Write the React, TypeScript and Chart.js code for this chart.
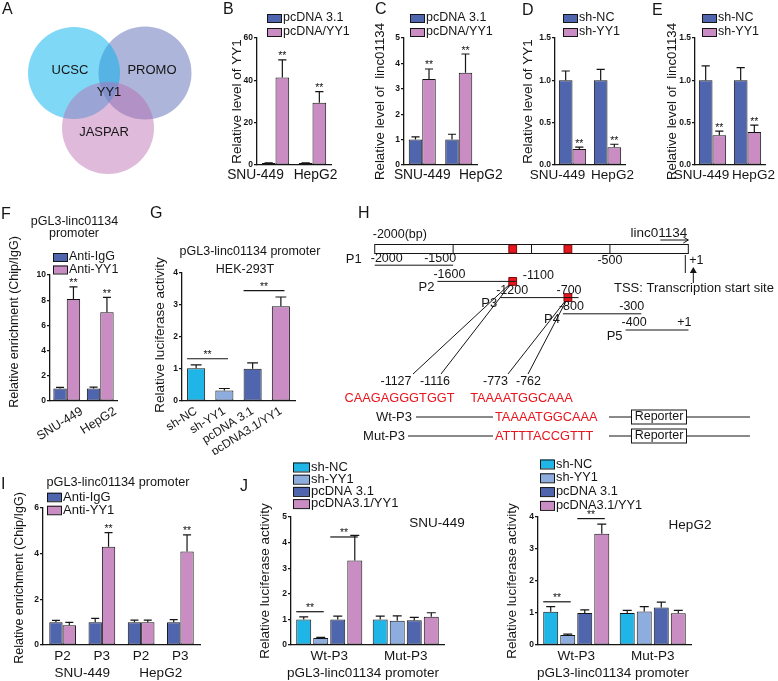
import React, { useEffect, useRef } from "react";
import { Chart, registerables } from "chart.js";

Chart.register(...registerables);

const FONT = "'Liberation Sans', Arial, Helvetica, sans-serif";
Chart.defaults.font.family = FONT;
Chart.defaults.color = "#111";

const INK = "#151515";
const BLUE = "#4f65ae";
const PINK = "#c98dc3";
const CYAN = "#1fb6e7";
const LIGHT = "#8eaddf";
const RED = "#e8151d";

// ---------------- DATA ----------------
// Panel A
const vennSets = ["PROMO", "UCSC", "JASPAR"];
const vennCore = "YY1";
// Panels B–E
const cellLines = ["SNU-449", "HepG2"];
const overSeries = ["pcDNA 3.1", "pcDNA/YY1"];
const knockSeries = ["sh-NC", "sh-YY1"];
const bVector = [0.9, 0.9];
const bVectorErr = [0.12, 0.12];
const bYY1 = [41.3, 29.4];
const bYY1Err = [8.4, 5.3];
const cVector = [1.0, 1.0];
const cVectorErr = [0.11, 0.21];
const cYY1 = [3.39, 3.63];
const cYY1Err = [0.39, 0.74];
const dShNC = [1.0, 1.0];
const dShNCErr = [0.11, 0.13];
const dShYY1 = [0.19, 0.21];
const dShYY1Err = [0.02, 0.035];
const eShNC = [1.0, 1.0];
const eShNCErr = [0.17, 0.15];
const eShYY1 = [0.35, 0.39];
const eShYY1Err = [0.05, 0.08];
// Panel F
const chipSeries = ["Anti-IgG", "Anti-YY1"];
const fIgG = [1.0, 1.0];
const fIgGErr = [0.08, 0.1];
const fYY1 = [8.1, 7.05];
const fYY1Err = [0.95, 1.18];
// Panel G
const gGroups = ["sh-NC", "sh-YY1", "pcDNA 3.1", "pcDNA3.1/YY1"];
const gValues = [1.02, 0.33, 1.01, 2.96];
const gErrors = [0.11, 0.06, 0.18, 0.29];
// Panel H
const fragNames = ["P1", "P2", "P3", "P4", "P5"];
const fragStart = [-2000, -1600, -1200, -800, -400];
const fragEnd = [-1500, -1100, -700, -300, 1];
const fragStartLabel = ["-2000", "-1600", "-1200", "-800", "-400"];
const fragEndLabel = ["-1500", "-1100", "-700", "-300", "+1"];
const barDividers = [-1500, -1000, -500];
const siteBp = [-1120, -768];
const siteRows = [[0, 2], [0, 3]];
const siteEdges = [["-1127", "-1116"], ["-773", "-762"]];
const siteSeq = ["CAAGAGGGTGGT", "TAAAATGGCAAA"];
const wtSeq = "TAAAATGGCAAA";
const mutSeq = "ATTTTACCGTTT";
// Panel I
const iFragments = ["P2", "P3", "P2", "P3"];
const iIgG = [1.0, 1.0, 1.0, 1.0];
const iIgGErr = [0.08, 0.17, 0.09, 0.11];
const iYY1 = [0.86, 4.3, 1.0, 4.1];
const iYY1Err = [0.13, 0.62, 0.09, 0.72];
// Panel J
const jConstructs = ["Wt-P3", "Mut-P3"];
const jSeries = ["sh-NC", "sh-YY1", "pcDNA 3.1", "pcDNA3.1/YY1"];
const jSnu = [
  [1.0, 1.0],
  [0.27, 0.95],
  [1.0, 0.97],
  [3.3, 1.1],
];
const jSnuErr = [
  [0.1, 0.13],
  [0.03, 0.19],
  [0.13, 0.11],
  [0.98, 0.16],
];
const jHep = [
  [1.04, 1.0],
  [0.31, 1.05],
  [1.0, 1.17],
  [3.48, 0.99],
];
const jHepErr = [
  [0.16, 0.08],
  [0.03, 0.15],
  [0.1, 0.17],
  [0.3, 0.09],
];

// ---------------- TYPES ----------------
type Rect = { x: number; y: number; w: number; h: number };
type Plot = { l: number; t: number; r: number; b: number };
type TextItem = {
  text: string; x: number; y: number; size: number;
  align?: CanvasTextAlign; rotate?: boolean; color?: string;
};
type SeriesSpec = {
  label: string; values: number[]; errors: number[];
  color: string | string[]; stars?: boolean[];
};
type BarSpec = {
  canvas: Rect; plot: Plot; labels: string[]; series: SeriesSpec[];
  yMax: number; yStep: number; yDec: number; catPct: number; barPct: number;
  xRot?: number; xSize?: number; xLabelOffset?: number;
  manualX?: { shift: number[]; y: number; size: number };
  legend?: { x: number; y: number; rowH: number; boxW: number; boxH: number; size: number };
  texts?: TextItem[];
  brackets?: { from: [number, number]; to: [number, number]; value: number }[];
  groups?: { text: string; from: number; to: number; y: number; size: number }[];
};

function drawText(ctx: CanvasRenderingContext2D, t: TextItem, ox: number, oy: number) {
  ctx.save();
  ctx.fillStyle = t.color || INK;
  ctx.font = `${t.size}px ${FONT}`;
  ctx.textAlign = t.align || "center";
  ctx.textBaseline = "middle";
  ctx.translate(t.x - ox, t.y - oy);
  if (t.rotate) ctx.rotate(-Math.PI / 2);
  ctx.fillText(t.text, 0, 0);
  ctx.restore();
}

function drawStars(ctx: CanvasRenderingContext2D, x: number, base: number) {
  ctx.save();
  ctx.fillStyle = INK;
  ctx.font = `10.5px ${FONT}`;
  ctx.textAlign = "center";
  ctx.textBaseline = "alphabetic";
  ctx.fillText("**", x, base);
  ctx.restore();
}

function buildBar(canvas: HTMLCanvasElement, s: BarSpec): Chart {
  const ox = s.canvas.x;
  const oy = s.canvas.y;
  const yW = s.plot.l - ox;
  const xH = oy + s.canvas.h - s.plot.b;
  const decor = {
    id: "decor",
    afterDatasetsDraw(chart: any) {
      const ctx: CanvasRenderingContext2D = chart.ctx;
      const ys = chart.scales.y;
      const xs = chart.scales.x;
      ctx.save();
      ctx.strokeStyle = INK;
      ctx.lineWidth = 1.2;
      s.series.forEach((ser, di) => {
        const meta = chart.getDatasetMeta(di);
        meta.data.forEach((el: any, i: number) => {
          const top = ys.getPixelForValue(ser.values[i] + ser.errors[i]);
          const cap = el.width * 0.6;
          ctx.beginPath();
          ctx.moveTo(el.x, el.y);
          ctx.lineTo(el.x, top);
          ctx.moveTo(el.x - cap / 2, top);
          ctx.lineTo(el.x + cap / 2, top);
          ctx.stroke();
          if (ser.stars && ser.stars[i]) drawStars(ctx, el.x, top - 0.5);
        });
      });
      (s.brackets || []).forEach((b) => {
        const a: any = chart.getDatasetMeta(b.from[0]).data[b.from[1]];
        const c: any = chart.getDatasetMeta(b.to[0]).data[b.to[1]];
        const y = ys.getPixelForValue(b.value);
        const x1 = a.x - a.width / 2;
        const x2 = c.x + c.width * 0.2;
        ctx.beginPath();
        ctx.moveTo(x1, y);
        ctx.lineTo(x2, y);
        ctx.stroke();
        drawStars(ctx, (x1 + x2) / 2, y - 1);
      });
      if (s.legend) {
        const L = s.legend;
        s.series.forEach((ser, i) => {
          const cy = L.y + i * L.rowH - oy;
          ctx.fillStyle = Array.isArray(ser.color) ? ser.color[0] : ser.color;
          ctx.fillRect(L.x - ox, cy - L.boxH / 2, L.boxW, L.boxH);
          ctx.lineWidth = 1;
          ctx.strokeRect(L.x - ox + 0.5, cy - L.boxH / 2 + 0.5, L.boxW, L.boxH);
          drawText(ctx, { text: ser.label, x: L.x + L.boxW + 2, y: L.y + i * L.rowH, size: L.size, align: "left" }, ox, oy);
        });
      }
      if (s.manualX) {
        const M = s.manualX;
        s.labels.forEach((lab, i) => {
          drawText(ctx, { text: lab, x: xs.getPixelForTick(i) + ox + M.shift[i], y: M.y, size: M.size }, ox, oy);
        });
      }
      (s.groups || []).forEach((g) => {
        const gx = (xs.getPixelForTick(g.from) + xs.getPixelForTick(g.to)) / 2;
        drawText(ctx, { text: g.text, x: gx + ox, y: g.y, size: g.size }, ox, oy);
      });
      (s.texts || []).forEach((t) => drawText(ctx, t, ox, oy));
      ctx.restore();
    },
  };
  const rot = s.xRot || 0;
  return new Chart(canvas, {
    type: "bar",
    data: {
      labels: s.labels,
      datasets: s.series.map((ser) => ({
        label: ser.label,
        data: ser.values,
        backgroundColor: ser.color,
        borderColor: INK,
        borderWidth: 1,
        borderSkipped: false,
        categoryPercentage: s.catPct,
        barPercentage: s.barPct,
      })),
    },
    options: {
      responsive: false,
      animation: false,
      events: [],
      layout: { autoPadding: false, padding: { left: 0, top: s.plot.t - oy, right: ox + s.canvas.w - s.plot.r, bottom: 0 } },
      plugins: { legend: { display: false }, tooltip: { enabled: false } },
      scales: {
        x: {
          type: "category",
          offset: true,
          grid: { display: false, drawTicks: false },
          border: { display: true, color: INK, width: 1.3 },
          ticks: {
            display: !s.manualX,
            color: INK,
            font: { family: FONT, size: s.xSize || 13.5 },
            padding: 3,
            minRotation: rot,
            maxRotation: rot,
            labelOffset: s.xLabelOffset || 0,
            autoSkip: false,
          },
          afterFit: (sc: any) => { sc.height = xH; },
        },
        y: {
          type: "linear",
          min: 0,
          max: s.yMax,
          ticks: {
            stepSize: s.yStep,
            color: INK,
            padding: 1,
            font: { family: FONT, size: 8.5, weight: "bold" },
            callback: (v: any) => Number(v).toFixed(s.yDec),
          },
          grid: { drawOnChartArea: false, drawTicks: true, tickLength: 3, color: INK, lineWidth: 1.2 },
          border: { display: true, color: INK, width: 1.3 },
          afterFit: (sc: any) => { sc.width = yW; },
        },
      },
    } as any,
    plugins: [decor],
  });
}

// ---------------- PANEL SPECS ----------------
const pairStars = [true, true];
const noStars = [false, false];

const BAR_SPECS: BarSpec[] = [
  {
    canvas: { x: 222, y: 0, w: 136, h: 190 },
    plot: { l: 257, t: 38, r: 331, b: 165 },
    labels: cellLines,
    series: [
      { label: overSeries[0], values: bVector, errors: bVectorErr, color: BLUE, stars: noStars },
      { label: overSeries[1], values: bYY1, errors: bYY1Err, color: PINK, stars: pairStars },
    ],
    yMax: 60, yStep: 20, yDec: 0, catPct: 0.74, barPct: 1,
    manualX: { shift: [-20, 3], y: 175, size: 13.8 },
    legend: { x: 267, y: 18, rowH: 14, boxW: 14, boxH: 8, size: 12.5 },
    texts: [{ text: "Relative level of YY1", x: 237, y: 101.5, size: 13.5, rotate: true }],
  },
  {
    canvas: { x: 371, y: 0, w: 137, h: 190 },
    plot: { l: 404, t: 38, r: 477, b: 165 },
    labels: cellLines,
    series: [
      { label: overSeries[0], values: cVector, errors: cVectorErr, color: BLUE, stars: noStars },
      { label: overSeries[1], values: cYY1, errors: cYY1Err, color: PINK, stars: pairStars },
    ],
    yMax: 5, yStep: 1, yDec: 0, catPct: 0.74, barPct: 1,
    manualX: { shift: [0, 22], y: 175, size: 13.8 },
    legend: { x: 410, y: 18, rowH: 14, boxW: 14, boxH: 8, size: 12.5 },
    texts: [{ text: "Relative level of  linc01134", x: 380, y: 101.5, size: 13.3, rotate: true }],
  },
  {
    canvas: { x: 518, y: 0, w: 122, h: 190 },
    plot: { l: 555, t: 38, r: 625, b: 165 },
    labels: cellLines,
    series: [
      { label: knockSeries[0], values: dShNC, errors: dShNCErr, color: BLUE, stars: noStars },
      { label: knockSeries[1], values: dShYY1, errors: dShYY1Err, color: PINK, stars: pairStars },
    ],
    yMax: 1.5, yStep: 0.5, yDec: 1, catPct: 0.78, barPct: 1,
    manualX: { shift: [-15, 5], y: 175, size: 13.5 },
    legend: { x: 563, y: 18, rowH: 14, boxW: 14, boxH: 8, size: 12.5 },
    texts: [{ text: "Relative level of YY1", x: 528, y: 101.5, size: 13.5, rotate: true }],
  },
  {
    canvas: { x: 664, y: 0, w: 114, h: 190 },
    plot: { l: 695, t: 38, r: 765, b: 165 },
    labels: cellLines,
    series: [
      { label: knockSeries[0], values: eShNC, errors: eShNCErr, color: BLUE, stars: noStars },
      { label: knockSeries[1], values: eShYY1, errors: eShYY1Err, color: PINK, stars: pairStars },
    ],
    yMax: 1.5, yStep: 0.5, yDec: 1, catPct: 0.78, barPct: 1,
    manualX: { shift: [-11, 6], y: 175, size: 13.5 },
    legend: { x: 702, y: 18, rowH: 14, boxW: 14, boxH: 8, size: 12.5 },
    texts: [{ text: "Relative level of  linc01134", x: 672, y: 101.5, size: 13.3, rotate: true }],
  },
  {
    canvas: { x: 5, y: 195, w: 135, h: 255 },
    plot: { l: 50, t: 275, r: 117, b: 401 },
    labels: cellLines,
    series: [
      { label: chipSeries[0], values: fIgG, errors: fIgGErr, color: BLUE, stars: noStars },
      { label: chipSeries[1], values: fYY1, errors: fYY1Err, color: PINK, stars: pairStars },
    ],
    yMax: 10, yStep: 2, yDec: 0, catPct: 0.8, barPct: 1,
    xRot: 32, xSize: 12.5, xLabelOffset: 15,
    legend: { x: 53, y: 257, rowH: 12.5, boxW: 14, boxH: 8, size: 12.5 },
    texts: [
      { text: "Relative enrichment (Chip/IgG)", x: 15, y: 322, size: 12.5, rotate: true },
      { text: "pGL3-linc01134", x: 74.5, y: 222, size: 12.5 },
      { text: "promoter", x: 74, y: 234, size: 12.5 },
    ],
  },
  {
    canvas: { x: 150, y: 195, w: 190, h: 260 },
    plot: { l: 182, t: 273, r: 295, b: 401 },
    labels: gGroups,
    series: [
      { label: "luciferase", values: gValues, errors: gErrors, color: [CYAN, LIGHT, BLUE, PINK] },
    ],
    yMax: 4, yStep: 1, yDec: 0, catPct: 1, barPct: 0.64,
    xRot: 32, xSize: 12,
    brackets: [
      { from: [0, 0], to: [0, 1], value: 1.32 },
      { from: [0, 2], to: [0, 3], value: 3.45 },
    ],
    texts: [
      { text: "Relative luciferase activity", x: 160, y: 335, size: 13.5, rotate: true },
      { text: "pGL3-linc01134 promoter", x: 250, y: 252, size: 12.5 },
      { text: "HEK-293T", x: 245, y: 270, size: 12.5 },
    ],
  },
  {
    canvas: { x: 5, y: 470, w: 210, h: 211 },
    plot: { l: 43, t: 508, r: 200, b: 645 },
    labels: iFragments,
    series: [
      { label: chipSeries[0], values: iIgG, errors: iIgGErr, color: BLUE },
      { label: chipSeries[1], values: iYY1, errors: iYY1Err, color: PINK, stars: [false, true, false, true] },
    ],
    yMax: 6, yStep: 2, yDec: 0, catPct: 0.68, barPct: 1,
    legend: { x: 47, y: 497, rowH: 13, boxW: 14, boxH: 8.5, size: 13 },
    groups: [
      { text: cellLines[0], from: 0, to: 1, y: 673, size: 13.5 },
      { text: cellLines[1], from: 2, to: 3, y: 673, size: 13.5 },
    ],
    texts: [
      { text: "Relative enrichment (Chip/IgG)", x: 20, y: 578, size: 12.5, rotate: true },
      { text: "pGL3-linc01134 promoter", x: 118, y: 482, size: 12.7 },
    ],
  },
  {
    canvas: { x: 257, y: 455, w: 215, h: 226 },
    plot: { l: 291, t: 517, r: 444, b: 645 },
    labels: jConstructs,
    series: jSeries.map((lab, k) => ({ label: lab, values: jSnu[k], errors: jSnuErr[k], color: [CYAN, LIGHT, BLUE, PINK][k] })),
    yMax: 5, yStep: 1, yDec: 0, catPct: 0.89, barPct: 0.88,
    legend: { x: 293, y: 467, rowH: 12.2, boxW: 16, boxH: 9, size: 13 },
    brackets: [
      { from: [0, 0], to: [1, 0], value: 1.3 },
      { from: [2, 0], to: [3, 0], value: 4.22 },
    ],
    texts: [
      { text: "Relative luciferase activity", x: 265, y: 581, size: 13.5, rotate: true },
      { text: "SNU-449", x: 437, y: 523, size: 13.5 },
      { text: "pGL3-linc01134 promoter", x: 363, y: 673, size: 13.5 },
    ],
  },
  {
    canvas: { x: 504, y: 455, w: 274, h: 226 },
    plot: { l: 538, t: 517, r: 691, b: 645 },
    labels: jConstructs,
    series: jSeries.map((lab, k) => ({ label: lab, values: jHep[k], errors: jHepErr[k], color: [CYAN, LIGHT, BLUE, PINK][k] })),
    yMax: 4, yStep: 1, yDec: 0, catPct: 0.89, barPct: 0.88,
    legend: { x: 540, y: 464, rowH: 13.8, boxW: 14, boxH: 9, size: 12.8 },
    brackets: [
      { from: [0, 0], to: [1, 0], value: 1.35 },
      { from: [2, 0], to: [3, 0], value: 3.95 },
    ],
    texts: [
      { text: "Relative luciferase activity", x: 512, y: 581, size: 13.5, rotate: true },
      { text: "HepG2", x: 690, y: 525, size: 13.5 },
      { text: "pGL3-linc01134 promoter", x: 613, y: 673, size: 13.5 },
    ],
  },
];

// ---------------- Panel A: Venn ----------------
const VENN_RECT: Rect = { x: 0, y: 0, w: 200, h: 190 };
const vennLayout = [
  { x: 145, y: 73, r: 46.5, color: "rgba(91,110,182,0.5)", lx: 152, ly: 70 },
  { x: 74, y: 73, r: 46, color: "rgba(0,177,237,0.5)", lx: 70, ly: 70 },
  { x: 108, y: 128, r: 46, color: "rgba(185,105,175,0.46)", lx: 104, ly: 132 },
];

function buildVenn(canvas: HTMLCanvasElement): Chart {
  const labels = {
    id: "vennLabels",
    afterDatasetsDraw(chart: any) {
      const ctx = chart.ctx;
      const xs = chart.scales.x;
      const ys = chart.scales.y;
      vennSets.forEach((name, i) => {
        drawText(ctx, { text: name, x: xs.getPixelForValue(vennLayout[i].lx), y: ys.getPixelForValue(vennLayout[i].ly), size: 13 }, 0, 0);
      });
      drawText(ctx, { text: vennCore, x: xs.getPixelForValue(109), y: ys.getPixelForValue(92), size: 13 }, 0, 0);
    },
  };
  // dataset 0 is painted last (on top), so list in reverse of paint order
  const order = [2, 1, 0];
  return new Chart(canvas, {
    type: "bubble",
    data: {
      datasets: order.map((i) => ({
        label: vennSets[i],
        data: [{ x: vennLayout[i].x, y: vennLayout[i].y, r: vennLayout[i].r }],
        backgroundColor: vennLayout[i].color,
        borderWidth: 0,
        hoverRadius: 0,
        clip: false,
      })),
    },
    options: {
      responsive: false,
      animation: false,
      events: [],
      layout: { autoPadding: false, padding: 0 },
      plugins: { legend: { display: false }, tooltip: { enabled: false } },
      scales: {
        x: { type: "linear", display: false, min: 0, max: VENN_RECT.w },
        y: { type: "linear", display: false, min: 0, max: VENN_RECT.h, reverse: true },
      },
    } as any,
    plugins: [labels],
  });
}

// ---------------- Panel H: promoter map ----------------
const H_RECT: Rect = { x: 340, y: 195, w: 438, h: 250 };
const H_BP_MIN = -2221.5;
const H_BP_MAX = 572;
const H_ROW0 = 249;
const H_ROW_STEP = 16.2;

function buildH(canvas: HTMLCanvasElement): Chart {
  const ox = H_RECT.x;
  const oy = H_RECT.y;
  const T = (ctx: any, text: string, x: number, y: number, size: number, align: CanvasTextAlign = "center", color = INK) =>
    drawText(ctx, { text, x: x + ox, y: y + oy, size, align, color }, ox, oy);
  const P = (ctx: any, text: string, x: number, y: number, size: number, align: CanvasTextAlign = "center", color = INK) =>
    drawText(ctx, { text, x, y, size, align, color }, ox, oy);
  const deco = {
    id: "promoter",
    beforeDatasetsDraw(chart: any) {
      const ctx: CanvasRenderingContext2D = chart.ctx;
      const px = (bp: number) => chart.scales.x.getPixelForValue(bp);
      const py = (row: number) => chart.scales.y.getPixelForValue(row);
      ctx.save();
      ctx.strokeStyle = INK;
      ctx.lineWidth = 1;
      const y0 = py(0);
      const x1 = px(-2000);
      const x2 = px(0);
      ctx.fillStyle = "#fff";
      ctx.fillRect(x1, y0 - 4.5, x2 - x1, 9);
      ctx.strokeRect(x1, y0 - 4.5, x2 - x1, 9);
      barDividers.forEach((bp) => {
        ctx.beginPath();
        ctx.moveTo(px(bp), y0 - 4.5);
        ctx.lineTo(px(bp), y0 + 4.5);
        ctx.stroke();
      });
      // +1 marker
      ctx.beginPath();
      ctx.moveTo(x2 - 3, y0 + 6);
      ctx.lineTo(x2 - 3, y0 + 24);
      ctx.stroke();
      // gene arrow
      ctx.beginPath();
      ctx.moveTo(x2 - 28, y0 - 9);
      ctx.lineTo(x2, y0 - 9);
      ctx.moveTo(x2 - 5, y0 - 12);
      ctx.lineTo(x2, y0 - 9);
      ctx.lineTo(x2 - 5, y0 - 6);
      ctx.stroke();
      // TSS pointer
      const tx = x2 + 5;
      ctx.fillStyle = INK;
      ctx.beginPath();
      ctx.moveTo(tx, y0 + 18);
      ctx.lineTo(tx - 3.5, y0 + 24);
      ctx.lineTo(tx + 3.5, y0 + 24);
      ctx.closePath();
      ctx.fill();
      ctx.beginPath();
      ctx.moveTo(tx, y0 + 24);
      ctx.lineTo(tx, y0 + 34);
      ctx.stroke();
      // diagonal leaders from binding sites to their sequences
      const leaderEnds = [[413 - ox, 441 - ox], [508 - ox, 528 - ox]];
      siteBp.forEach((bp, k) => {
        const sx = px(bp);
        const sy = py(siteRows[k][1]);
        leaderEnds[k].forEach((ex) => {
          ctx.beginPath();
          ctx.moveTo(sx, sy);
          ctx.lineTo(ex, 374 - oy);
          ctx.stroke();
        });
      });
      ctx.restore();
    },
    afterDatasetsDraw(chart: any) {
      const ctx: CanvasRenderingContext2D = chart.ctx;
      const px = (bp: number) => chart.scales.x.getPixelForValue(bp);
      const py = (row: number) => chart.scales.y.getPixelForValue(row);
      const y0 = py(0);
      const x2 = px(0);
      T(ctx, "-2000(bp)", px(-2000) - 2, y0 - 14, 12.5, "left");
      T(ctx, "linc01134", x2 - 1, y0 - 16, 13.5, "right");
      T(ctx, "-500", px(-500), y0 + 12, 12.5);
      T(ctx, "+1", x2 + 1, y0 + 12, 12.5, "left");
      P(ctx, "TSS: Transcription start site", 614, 288, 13, "left");
      fragNames.forEach((name, i) => {
        const y = py(i + 1);
        const xs = px(fragStart[i]);
        const xe = px(fragEnd[i]);
        T(ctx, fragStartLabel[i], xs - 4, y - 7, 12.5, "left");
        const siteAtEnd = siteBp.some((bp, k) => siteRows[k][1] === i + 1 && Math.abs(bp - fragEnd[i]) < 60);
        if (siteAtEnd) T(ctx, fragEndLabel[i], xe + 7, y - 6, 12.5, "left");
        else T(ctx, fragEndLabel[i], xe + 3, y - 7, 12.5, "right");
        if (i === 0) T(ctx, name, xs - 13, y - 6, 13, "right");
        else T(ctx, name, xs - 3, y + 6, 13, "right");
      });
      // site coordinates and sequences
      const edgeX = [[396, 435], [495.5, 528.5]];
      const seqX = [399.5, 521.5];
      siteEdges.forEach((pair, k) => {
        P(ctx, pair[0], edgeX[k][0], 382, 12.5);
        P(ctx, pair[1], edgeX[k][1], 382, 12.5);
        P(ctx, siteSeq[k], seqX[k], 398, 12.8, "center", RED);
      });
      // reporter constructs
      const rows = [
        { name: "Wt-P3", seq: wtSeq, y: 417, nameX: 412, lineFrom: 416 },
        { name: "Mut-P3", seq: mutSeq, y: 436, nameX: 405, lineFrom: 408 },
      ];
      ctx.save();
      ctx.strokeStyle = INK;
      ctx.lineWidth = 1;
      rows.forEach((r) => {
        const yy = r.y - oy;
        P(ctx, r.name, r.nameX, r.y, 13, "right");
        ctx.beginPath();
        ctx.moveTo(r.lineFrom - ox, yy);
        ctx.lineTo(493 - ox, yy);
        ctx.moveTo(609 - ox, yy);
        ctx.lineTo(631 - ox, yy);
        ctx.moveTo(686 - ox, yy);
        ctx.lineTo(750 - ox, yy);
        ctx.stroke();
        P(ctx, r.seq, 495, r.y, 12.8, "left", RED);
        ctx.strokeRect(631.5 - ox, yy - 7, 55, 14);
        P(ctx, "Reporter", 659, r.y, 12.5);
      });
      ctx.restore();
    },
  };
  return new Chart(canvas, {
    type: "scatter",
    data: {
      datasets: [
        ...fragNames.map((name, i) => ({
          label: name,
          data: [{ x: fragStart[i], y: i + 1 }, { x: fragEnd[i], y: i + 1 }],
          showLine: true,
          borderColor: INK,
          borderWidth: 1,
          pointRadius: 0,
          clip: false,
        })),
        {
          label: "YY1 sites",
          data: siteBp.flatMap((bp, k) => siteRows[k].map((row) => ({ x: bp, y: row }))),
          pointStyle: "rect",
          pointRadius: 5.5,
          backgroundColor: RED,
          borderColor: "#7a0a0a",
          borderWidth: 1,
          clip: false,
        },
      ],
    },
    options: {
      responsive: false,
      animation: false,
      events: [],
      layout: { autoPadding: false, padding: 0 },
      plugins: { legend: { display: false }, tooltip: { enabled: false } },
      scales: {
        x: { type: "linear", display: false, min: H_BP_MIN, max: H_BP_MAX },
        y: {
          type: "linear",
          display: false,
          reverse: true,
          min: -(H_ROW0 - H_RECT.y) / H_ROW_STEP,
          max: (H_RECT.h - (H_ROW0 - H_RECT.y)) / H_ROW_STEP,
        },
      },
    } as any,
    plugins: [deco],
  });
}

// ---------------- COMPONENTS ----------------
function ChartBox({ rect, build }: { rect: Rect; build: (c: HTMLCanvasElement) => Chart }) {
  const ref = useRef<HTMLCanvasElement>(null);
  useEffect(() => {
    const chart = build(ref.current as HTMLCanvasElement);
    return () => chart.destroy();
  }, []);
  return (
    <canvas
      ref={ref}
      width={rect.w}
      height={rect.h}
      style={{ position: "absolute", left: rect.x, top: rect.y, width: rect.w, height: rect.h }}
    />
  );
}

const PANEL_LETTERS = [
  { t: "A", x: 2, y: 8.7 },
  { t: "B", x: 223, y: 8.7 },
  { t: "C", x: 375, y: 9 },
  { t: "D", x: 522, y: 10 },
  { t: "E", x: 652, y: 10 },
  { t: "F", x: 1, y: 214 },
  { t: "G", x: 150, y: 212.5 },
  { t: "H", x: 358, y: 212.5 },
  { t: "I", x: 1, y: 483.5 },
  { t: "J", x: 240, y: 486 },
];

export default function App() {
  return (
    <div
      style={{
        position: "absolute",
        left: 0,
        top: 0,
        width: 778,
        height: 681,
        background: "#fff",
        overflow: "hidden",
        fontFamily: FONT,
      }}
    >
      <ChartBox rect={VENN_RECT} build={buildVenn} />
      {BAR_SPECS.map((s, i) => (
        <ChartBox key={i} rect={s.canvas} build={(c) => buildBar(c, s)} />
      ))}
      <ChartBox rect={H_RECT} build={buildH} />
      {PANEL_LETTERS.map((p) => (
        <div
          key={p.t}
          style={{
            position: "absolute",
            left: p.x,
            top: p.y - 7.8,
            fontSize: 16,
            lineHeight: "16px",
            color: INK,
            fontFamily: FONT,
          }}
        >
          {p.t}
        </div>
      ))}
    </div>
  );
}
